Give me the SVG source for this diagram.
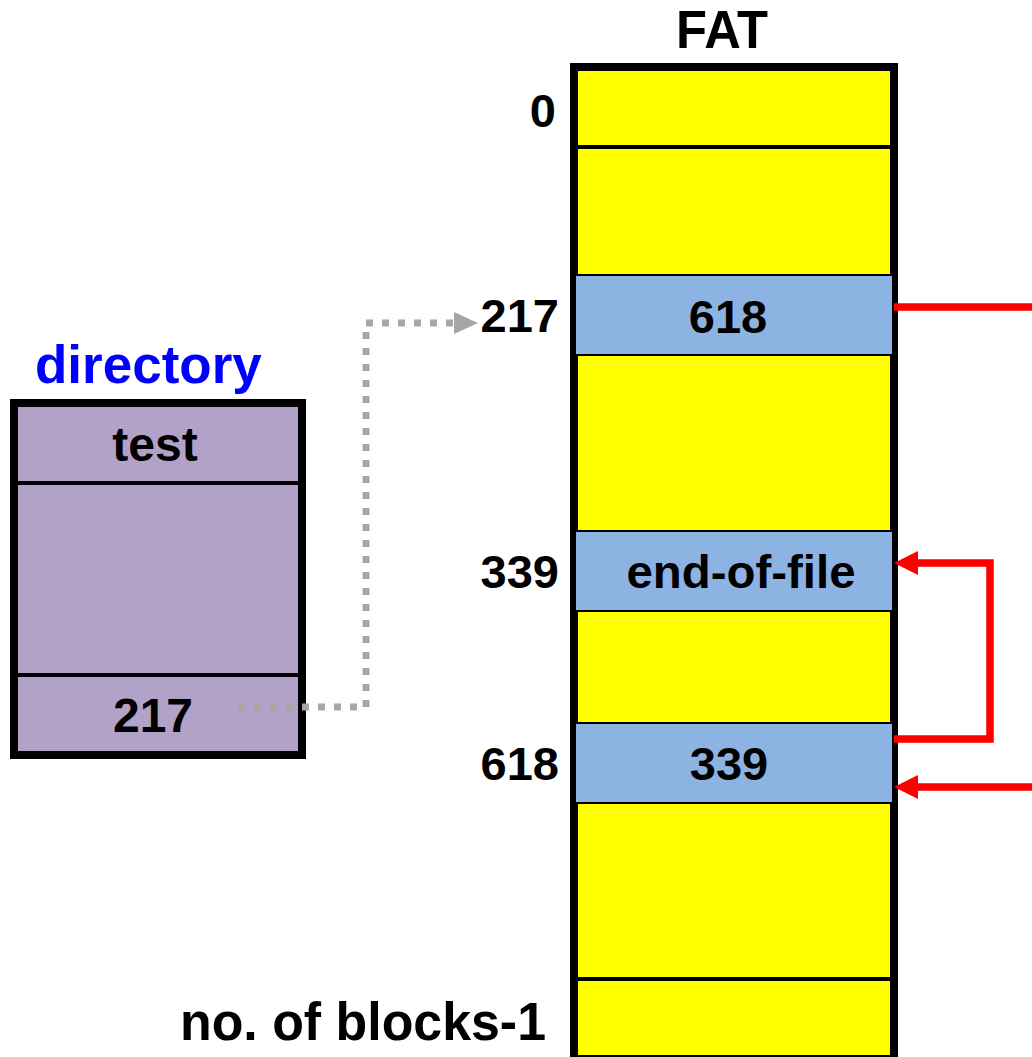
<svg xmlns="http://www.w3.org/2000/svg" width="1032" height="1057" viewBox="0 0 1032 1057">
  <style>
    text { font-family: "Liberation Sans", Arial, sans-serif; font-weight: bold; fill: #000; }
    .lbl { font-size: 47px; text-anchor: end; }
    .cell { font-size: 47px; text-anchor: middle; }
    .frame { stroke: #000; stroke-width: 8; }
    .div { stroke: #000; stroke-width: 4; }
    .entry { fill: #8db3e2; stroke: #000; stroke-width: 2; }
    .red { fill: none; stroke: #ff0000; stroke-width: 7.5; }
    .redhead { fill: #ff0000; }
  </style>

  <!-- file allocation table -->
  <g id="fat">
    <text x="722" y="48" style="font-size:54px" text-anchor="middle" textLength="92" lengthAdjust="spacingAndGlyphs">FAT</text>
    <rect class="frame" x="574" y="67" width="320" height="992" fill="#ffff00"/>
    <line class="div" x1="574" y1="147" x2="894" y2="147"/>
    <line class="div" x1="574" y1="979" x2="894" y2="979"/>
  </g>

  <g id="fat-row-0">
    <text class="lbl" x="556" y="127">0</text>
  </g>

  <g id="fat-row-217">
    <text class="lbl" x="559" y="332">217</text>
    <rect class="entry" x="575" y="275" width="318" height="80"/>
    <text class="cell" x="728" y="333">618</text>
  </g>

  <g id="fat-row-339">
    <text class="lbl" x="559" y="588">339</text>
    <rect class="entry" x="575" y="531" width="318" height="80"/>
    <text class="cell" x="741" y="588" textLength="229" lengthAdjust="spacingAndGlyphs">end-of-file</text>
  </g>

  <g id="fat-row-618">
    <text class="lbl" x="559" y="780">618</text>
    <rect class="entry" x="575" y="723" width="318" height="80"/>
    <text class="cell" x="729" y="780">339</text>
  </g>

  <g id="fat-row-last">
    <text class="lbl" x="546" y="1040" style="font-size:54px" textLength="366" lengthAdjust="spacingAndGlyphs">no. of blocks-1</text>
  </g>

  <!-- directory entry -->
  <g id="directory">
    <text x="35" y="383" style="font-size:53px; fill:#0000ff">directory</text>
    <rect class="frame" x="14" y="403" width="288" height="352" fill="#b2a2c7"/>
    <line class="div" x1="14" y1="483" x2="302" y2="483"/>
    <line class="div" x1="14" y1="675" x2="302" y2="675"/>
    <text class="cell" x="155" y="461" style="font-size:48px">test</text>
    <text class="cell" x="153" y="732" style="font-size:48px">217</text>
  </g>

  <!-- connectors -->
  <g id="connectors">
    <path d="M238,707 H366 V323 H456" fill="none" stroke="#a6a6a6" stroke-width="7" stroke-dasharray="7 9"/>
    <polygon points="454,312 478,323 454,334" fill="#a6a6a6"/>

    <path class="red" d="M894,307 H1032"/>

    <path class="red" d="M894,739 H990 V563 H916"/>
    <polygon class="redhead" points="894,563 918,551 918,575"/>

    <path class="red" d="M1032,787 H916"/>
    <polygon class="redhead" points="894,787 918,775 918,799"/>
  </g>
</svg>
